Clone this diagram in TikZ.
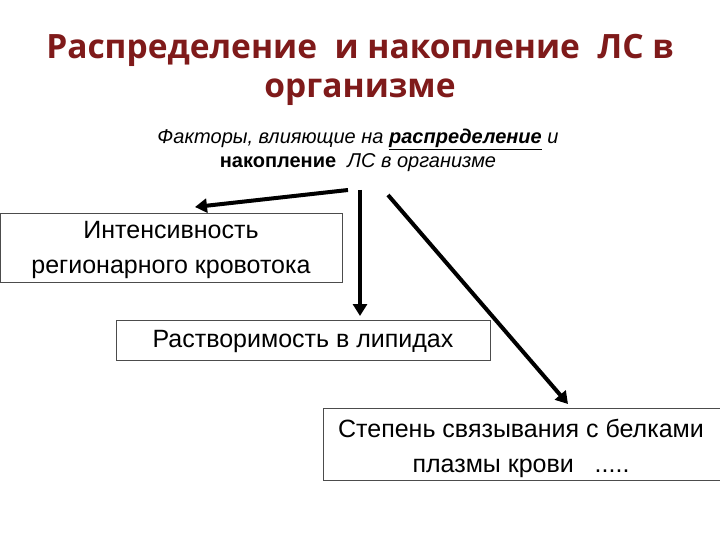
\documentclass[tikz,border=0pt]{standalone}
\usepackage{fontspec}
\setmainfont{Liberation Sans}
\newfontfamily\titlefont{Open Sans}
\usetikzlibrary{arrows.meta}
\definecolor{titlered}{HTML}{7F1A1A}
\begin{document}
\begin{tikzpicture}[x=1pt,y=-1pt,
  box/.style={draw=black!70,line width=0.8pt,inner sep=0pt},
  arr/.style={line width=4pt,-{Triangle[length=12pt,width=14pt]}},
  lbl/.style={font=\fontsize{25}{35}\selectfont,align=center}]
\useasboundingbox[fill=white] (0,0) rectangle (720,540);
\node[font=\titlefont\bfseries\fontsize{33.5}{39}\selectfont,text=titlered,align=center] (title) at (360,70) {Распределение\ \ и накопление\ \ ЛС в\\организме};
\node[font=\fontsize{20}{24}\selectfont,align=center] (sub) at (358,150) {\itshape Факторы, влияющие на \textbf{\underline{распределение}} и\\ \textbf{накопление}\ \ \itshape ЛС в организме};
\node[box,minimum width=342pt,minimum height=69pt] (b1) at (171,247.5) {};
\node[lbl] (t1) at (171,250) {Интенсивность\\регионарного кровотока};
\node[box,minimum width=374pt,minimum height=40pt] (b2) at (303,340) {};
\node[lbl] (t2) at (303,341) {Растворимость в липидах};
\node[box,minimum width=397pt,minimum height=72pt] (b3) at (521.5,444) {};
\node[lbl] (t3) at (521,448) {Степень связывания с белками\\плазмы крови\ \ \ .....};
\coordinate (s1) at (348,190);
\coordinate (s2) at (360,190);
\coordinate (s3) at (388,195);
\draw[arr] (s1) -- (195,207);
\draw[arr] (s2) -- (360,316);
\draw[arr] (s3) -- (568,404);
\end{tikzpicture}
\end{document}
